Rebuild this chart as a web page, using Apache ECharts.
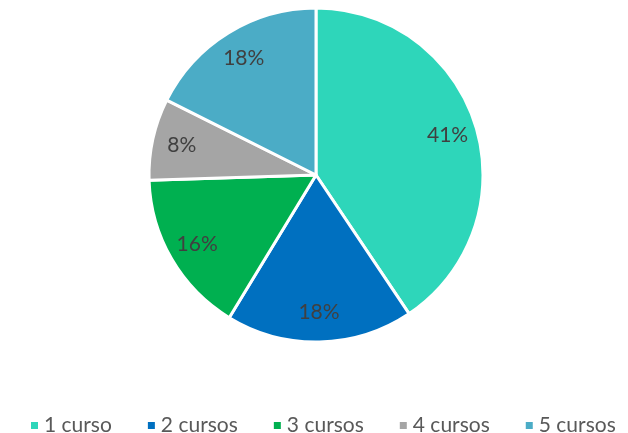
<!DOCTYPE html>
<html><head><meta charset="utf-8">
<script src="https://cdn.jsdelivr.net/npm/echarts@6/dist/echarts.min.js"></script>
<style>html,body{margin:0;padding:0;background:#fff}#c{width:628px;height:433px}</style>
</head><body><div id="c"></div>
<script>
var categories = ['1 curso', '2 cursos', '3 cursos', '4 cursos', '5 cursos'];
var values = [40.6, 18.1, 15.8, 7.9, 17.6];
var colors = ['#2ED6BA', '#0070C0', '#00B050', '#A5A5A5', '#4BACC6'];

var data = categories.map(function (c, i) { return { name: c, value: values[i] }; });
var total = values.reduce(function (a, b) { return a + b; }, 0);
var font = 'Lato, "Open Sans", sans-serif';

var chart = echarts.init(document.getElementById('c'));
chart.setOption({
  animation: false,
  color: colors,
  legend: {
    bottom: -8,
    left: 24,
    itemWidth: 9, itemHeight: 9, itemGap: 34,
    icon: 'rect',
    textStyle: { fontFamily: font, fontSize: 21, color: '#595959' },
    data: categories
  },
  series: [{
    type: 'pie',
    center: [316, 175],
    radius: [0, 167],
    startAngle: 90,
    clockwise: true,
    label: { show: false },
    labelLine: { show: false },
    itemStyle: { borderColor: '#fff', borderWidth: 3 },
    emphasis: { disabled: true },
    data: data
  }, {
    type: 'pie',
    center: [316, 175],
    radius: [102, 167],
    startAngle: 90,
    clockwise: true,
    silent: true,
    legendHoverLink: false,
    itemStyle: { color: 'transparent', borderWidth: 0 },
    label: {
      show: true, position: 'inside',
      fontFamily: font, fontSize: 21, color: '#404040',
      formatter: function (p) { return Math.round(p.value / total * 100) + '%'; }
    },
    labelLine: { show: false },
    emphasis: { disabled: true },
    data: data
  }]
});
</script></body></html>
